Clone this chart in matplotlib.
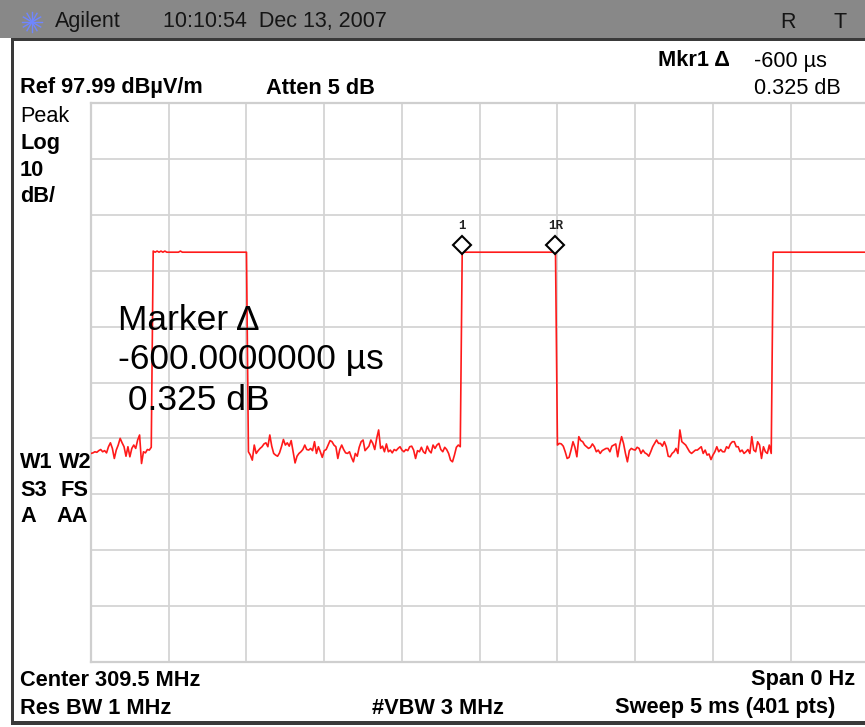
import numpy as np
import matplotlib.pyplot as plt
from matplotlib.patches import Rectangle
from matplotlib.lines import Line2D
import matplotlib.transforms as mtransforms

W, H = 865, 727

# analyzer settings
ref_level = 97.99     # dBuV/m at top of graticule
db_per_div = 10
sweep_ms = 5
n_pts = 401

# trace readings off the screen (dBuV/m), split by segment
noise_a = [35.3, 35.4, 35.6, 35.5, 35.8, 36.0, 35.6, 35.8, 35.4, 36.5,
           37.2, 36.2, 34.4, 35.9, 36.8, 38.0, 37.2, 36.5, 34.8, 36.5,
           34.7, 36.2, 36.8, 36.2, 37.7, 38.6, 33.5, 35.6, 35.4, 36.0,
           35.9, 36.4]
pulse_a = [71.5, 71.3, 71.5, 71.3, 71.5, 71.3, 71.5, 71.3, 71.3, 71.3,
           71.3, 71.3, 71.3, 71.3, 71.5] + [71.3] * 34
noise_b = [35.6, 35.0, 34.1, 36.8, 35.3, 35.8, 36.2, 36.5, 37.0, 37.2,
           36.5, 38.6, 36.6, 35.3, 35.0, 34.8, 35.4, 36.5, 37.8, 36.8,
           37.2, 36.6, 37.6, 35.6, 33.6, 34.8, 35.3, 35.6, 36.0, 36.8,
           36.0, 35.9, 36.2, 35.8, 37.4, 35.3, 36.5, 35.6, 34.6, 35.8,
           36.0, 36.8, 37.6, 37.4, 36.8, 36.5, 34.4, 36.0, 36.8, 36.0,
           35.4, 35.3, 35.6, 34.6, 33.8, 35.3, 34.8, 36.4, 37.4, 37.7,
           35.8, 36.2, 36.6, 37.7, 37.1, 36.0, 38.0, 39.5, 36.2, 36.6,
           35.6, 37.0, 35.6, 35.9, 35.4, 36.0, 35.8, 36.2, 36.5, 35.9,
           35.6, 36.0, 35.8, 36.5, 36.6, 35.9, 34.4, 35.8, 35.6, 36.4,
           35.6, 35.3, 36.6, 35.8, 35.4, 36.8, 36.2, 36.8, 37.1, 36.0,
           35.6, 36.4, 36.0, 35.3, 34.1, 33.8, 35.0, 36.4, 36.8, 36.5]
pulse_b = [71.3] * 49
noise_c = [36.8, 37.1, 37.0, 36.6, 35.6, 34.4, 34.6, 35.9, 37.4, 36.4,
           34.7, 38.3, 37.6, 37.4, 36.8, 36.5, 36.2, 36.4, 37.0, 36.5,
           35.6, 35.9, 35.3, 35.8, 36.0, 36.2, 36.2, 35.6, 36.6, 36.8,
           37.0, 34.7, 36.8, 38.3, 37.1, 35.3, 33.8, 35.8, 36.2, 36.0,
           35.9, 36.4, 36.2, 35.3, 35.9, 35.4, 35.2, 34.8, 35.6, 36.5,
           37.1, 37.7, 37.1, 37.1, 36.6, 37.4, 36.5, 34.8, 34.7, 35.3,
           35.6, 36.2, 35.3, 39.5, 37.4, 37.1, 36.8, 36.2, 35.6, 35.3,
           35.6, 35.9, 35.9, 36.2, 36.5, 35.3, 35.9, 35.0, 35.2, 34.2,
           35.0, 35.6, 36.5, 35.6, 36.0, 35.6, 35.6, 36.5, 36.2, 37.0,
           37.4, 37.4, 36.5, 36.5, 35.6, 35.9, 35.3, 35.6, 36.0, 35.3,
           38.3, 35.9, 35.6, 37.4, 36.8, 34.4, 36.5, 35.6, 35.3, 36.8,
           35.3]
pulse_c = [71.3] * 50

mkr1_idx = 191
mkr1r_idx = 239

trace = np.array(noise_a + pulse_a + noise_b + pulse_b + noise_c + pulse_c)
t = np.arange(n_pts) * sweep_ms / (n_pts - 1)

fig = plt.figure(figsize=(W / 100, H / 100), dpi=100)
fig.patch.set_facecolor('white')

# graticule
gx0, gy0, gx1, gy1 = 91, 103, 868.4, 662
ax = fig.add_axes([gx0 / W, 1 - gy1 / H, (gx1 - gx0) / W, (gy1 - gy0) / H])
ax.set_xlim(0, sweep_ms)
ax.set_ylim(ref_level - 10 * db_per_div, ref_level)
ax.set_xticks(np.arange(0, sweep_ms + 0.01, sweep_ms / 10))
ax.set_yticks(ref_level - np.arange(0, 11) * db_per_div)
ax.grid(True, color='#d4d4d4', lw=1.3)
ax.tick_params(length=0, labelbottom=False, labelleft=False)
for s in ax.spines.values():
    s.set_color('#cfcfcf')
    s.set_linewidth(1.6)
ax.set_axisbelow(True)

ax.plot(t, trace, color='#ff1a1a', lw=1.2, zorder=3)

# markers sit just above the trace
off = mtransforms.offset_copy(ax.transData, fig=fig, x=0, y=7, units='dots')
for idx, lab in [(mkr1_idx, '1'), (mkr1r_idx, '1R')]:
    ax.plot(t[idx], trace[idx], marker='D', ms=9.5, mfc='white', mec='black',
            mew=1.5, transform=off, zorder=4, clip_on=False)
    ax.annotate(lab, (t[idx], trace[idx]), xytext=(0, 26), textcoords='offset pixels',
                ha='center', va='center', fontsize=9, fontweight='bold',
                family='Liberation Mono', color='#222222', zorder=5)

# overlay for frame and status text (pixel coordinates)
ov = fig.add_axes([0, 0, 1, 1], zorder=5)
ov.set_xlim(0, W)
ov.set_ylim(H, 0)
ov.axis('off')
ov.patch.set_alpha(0)

ov.add_patch(Rectangle((0, 0), W, 38, color='#888888', lw=0))
ov.add_patch(Rectangle((11, 38), W, 3, color='#3a3a3a', lw=0))
ov.add_patch(Rectangle((11, 38), 3, 687, color='#3a3a3a', lw=0))
ov.add_patch(Rectangle((11, 721), W, 4, color='#3a3a3a', lw=0))

# logo star
cx, cy, r = 32, 22, 10
for a in np.linspace(0, np.pi, 7)[:-1]:
    ov.add_line(Line2D([cx - r * np.cos(a), cx + r * np.cos(a)],
                       [cy - r * np.sin(a), cy + r * np.sin(a)],
                       color='#6f86ff', lw=1.0))

hdr = dict(family='Liberation Sans', fontsize=15.5, color='#151515', va='center')
ov.text(55, 22, 'Agilent', **hdr)
ov.text(163, 22, '10:10:54  Dec 13, 2007', **hdr)
ov.text(780, 22, 'R', **hdr)
ov.text(833, 22, 'T', **hdr)

bold = dict(family='Liberation Sans', fontsize=15.7, fontweight='bold', color='black', va='center')
norm = dict(family='Liberation Sans', fontsize=15.6, color='black', va='center')

ov.text(658, 61, 'Mkr1 \u0394', **bold)
ov.text(754, 61, '-600 \u00b5s', **norm)
ov.text(20, 88, 'Ref 97.99 dB\u00b5V/m', **bold)
ov.text(266, 88, 'Atten 5 dB', **bold)
ov.text(754, 88, '0.325 dB', **norm)

ov.text(20, 116, 'Peak', **norm)
ov.text(20, 143, 'Log', **bold)
ov.text(20, 170, '10', **bold)
ov.text(20, 197, 'dB/', **bold)

ov.text(20, 462, 'W1', **bold)
ov.text(59, 462, 'W2', **bold)
ov.text(20, 490, 'S3', **bold)
ov.text(61, 490, 'FS', **bold)
ov.text(20, 517, 'A', **bold)
ov.text(56, 517, 'AA', **bold)

ov.text(20, 680, 'Center 309.5 MHz', **bold)
ov.text(855, 680, 'Span 0 Hz', ha='right', **bold)
ov.text(20, 708, 'Res BW 1 MHz', **bold)
ov.text(372, 708, '#VBW 3 MHz', **bold)
ov.text(835, 708, 'Sweep 5 ms (401 pts)', ha='right', **bold)

big = dict(family='Liberation Sans', fontsize=25.5, color='black', va='center')
ov.text(118, 320, 'Marker \u0394', **big)
ov.text(118, 360, '-600.0000000 \u00b5s', **big)
ov.text(118, 400, ' 0.325 dB', **big)

fig.savefig('out.png', dpi=100)
